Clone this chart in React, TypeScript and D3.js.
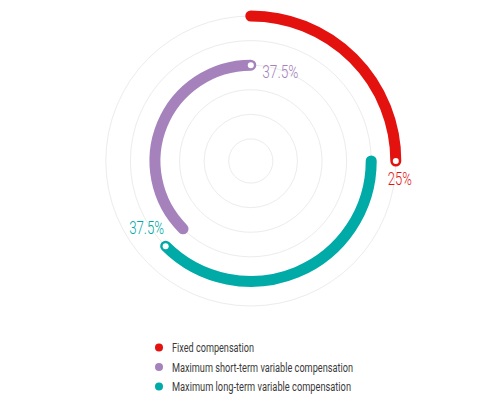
import React from "react";
import * as d3 from "d3";

const categories = [
  "Fixed compensation",
  "Maximum short-term variable compensation",
  "Maximum long-term variable compensation",
];
const shares = [25, 37.5, 37.5];
const rings = [6, 4, 5];
const stackOrder = [0, 2, 1];
const colors = ["#e3120f", "#a682bd", "#00aaa6"];
const labels = ["25%", "37.5%", "37.5%"];
const gridTicks = [1, 2, 3, 4, 5, 6];

const W = 501;
const H = 399;
const cx = 250.8;
const cy = 161;

export default function App() {
  const r = d3.scaleLinear().domain([0, 6]).range([-2.5, 145]);
  const a = d3.scaleLinear().domain([0, 100]).range([0, 2 * Math.PI]);

  const starts: number[] = [0, 0, 0];
  let acc = 0;
  stackOrder.forEach((i) => {
    starts[i] = acc;
    acc += shares[i];
  });

  const font = "Roboto, 'DejaVu Sans', sans-serif";
  const labelOffsets = [
    { dx: 4, dy: 24, anchor: "middle", len: 24 },
    { dx: 11.5, dy: 13, anchor: "start", len: 36 },
    { dx: -1.5, dy: -12.5, anchor: "end", len: 35 },
  ];
  const legendLens = [82, 181, 179];

  return (
    <svg
      width={W}
      height={H}
      style={{ position: "absolute", left: 0, top: 0, display: "block" }}
    >
      <rect width={W} height={H} fill="#fff" />
      <g transform={`translate(${cx},${cy})`}>
        {gridTicks.map((t) => (
          <circle key={t} r={r(t)} fill="none" stroke="#ececec" strokeWidth={1} />
        ))}
        {categories.map((c, i) => {
          const rad = r(rings[i]);
          const a0 = a(starts[i]);
          const a1 = a(starts[i] + shares[i]);
          const p = d3.path();
          p.moveTo(rad * Math.sin(a0), -rad * Math.cos(a0));
          p.arc(0, 0, rad, a0 - Math.PI / 2, a1 - Math.PI / 2, false);
          const ex = rad * Math.sin(a1);
          const ey = -rad * Math.cos(a1);
          const lo = labelOffsets[i];
          return (
            <g key={c}>
              <path
                d={p.toString()}
                fill="none"
                stroke={colors[i]}
                strokeWidth={11}
                strokeLinecap="round"
              />
              <circle cx={ex} cy={ey} r={3} fill="#fff" />
              <text
                x={ex + lo.dx}
                y={ey + lo.dy}
                textAnchor={lo.anchor as any}
                fill={colors[i]}
                fontFamily={font}
                fontWeight={300}
                fontSize={18}
                textLength={lo.len}
                lengthAdjust="spacingAndGlyphs"
              >
                {labels[i]}
              </text>
            </g>
          );
        })}
      </g>
      <g>
        {categories.map((c, i) => (
          <g key={c} transform={`translate(159,${347.5 + i * 19.5})`}>
            <circle r={4} fill={colors[i]} />
            <text
              x={13}
              y={4.5}
              fill="#3a3a3a"
              fontFamily={font}
              fontSize={12.5}
              textLength={legendLens[i]}
              lengthAdjust="spacingAndGlyphs"
            >
              {c}
            </text>
          </g>
        ))}
      </g>
    </svg>
  );
}
